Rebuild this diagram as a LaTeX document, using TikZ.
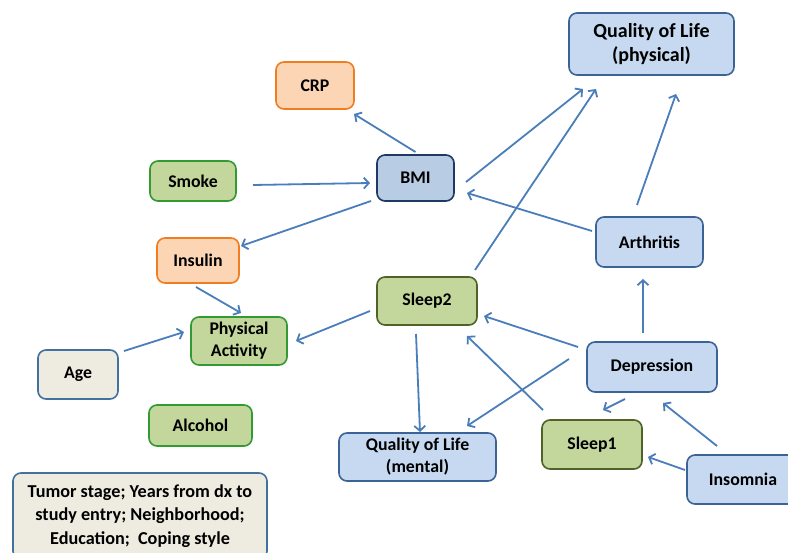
\documentclass[tikz,border=0pt]{standalone}
\usepackage{fontspec}
\setmainfont{Carlito}
\usetikzlibrary{arrows.meta}
\definecolor{orfill}{HTML}{FCD5B5}
\definecolor{ordraw}{HTML}{F07D1F}
\definecolor{grfill}{HTML}{C3D69B}
\definecolor{grdraw}{HTML}{339933}
\definecolor{oldraw}{HTML}{4F6228}
\definecolor{blfill}{HTML}{C6D9F1}
\definecolor{bldraw}{HTML}{3C6396}
\definecolor{bmifill}{HTML}{B8CCE4}
\definecolor{bmidraw}{HTML}{1F3864}
\definecolor{grayfill}{HTML}{EEECE1}
\definecolor{graydraw}{HTML}{41719C}
\definecolor{arrcol}{HTML}{4A7EBB}
\tikzset{
  box/.style={rounded corners=8pt, line width=1.6pt, inner sep=0pt, align=center,
    font=\fontsize{17.8}{22}\selectfont\bfseries},
  orbox/.style={box, fill=orfill, draw=ordraw},
  grbox/.style={box, fill=grfill, draw=grdraw},
  olbox/.style={box, fill=grfill, draw=oldraw},
  blbox/.style={box, fill=blfill, draw=bldraw},
  bmibox/.style={box, fill=bmifill, draw=bmidraw},
  gybox/.style={box, fill=grayfill, draw=graydraw},
  arr/.style={draw=arrcol, line width=1.8pt, -{Straight Barb[length=5pt,width=11pt]}},
}
\begin{document}
\begin{tikzpicture}[x=1pt,y=-1pt]
\clip (0,0) rectangle (788,553);
\fill[white] (0,0) rectangle (788,553);
% nodes
\node[orbox, minimum width=78pt, minimum height=47pt] (crp) at (315,85.5) {CRP};
\node[grbox, minimum width=86pt, minimum height=40pt] (smoke) at (193,181) {Smoke};
\node[orbox, minimum width=82pt, minimum height=45pt] (insulin) at (198,260.5) {Insulin};
\node[bmibox, minimum width=77pt, minimum height=46pt] (bmi) at (415.5,178) {BMI};
\node[blbox, minimum width=165pt, minimum height=62pt,
  font=\fontsize{20}{24}\selectfont\bfseries] (qolp) at (651.5,44) {Quality of Life\\(physical)};
\node[blbox, minimum width=107pt, minimum height=50pt] (arth) at (649.5,242) {Arthritis};
\node[olbox, minimum width=100pt, minimum height=48pt] (sleep2) at (427,301) {Sleep2};
\node[grbox, minimum width=96pt, minimum height=48pt] (pa) at (239,341) {Physical\\Activity};
\node[gybox, minimum width=80pt, minimum height=49pt] (age) at (78,374.5) {Age};
\node[grbox, minimum width=103pt, minimum height=41pt] (alc) at (200.5,425.5) {Alcohol};
\node[gybox, minimum width=254pt, minimum height=86pt,
  font=\fontsize{18.2}{23.5}\selectfont\bfseries] (tumor) at (140,516) {Tumor stage; Years from dx to\\study entry; Neighborhood;\\Education;\ \ Coping style};
\node[blbox, minimum width=157pt, minimum height=48pt] (qolm) at (417.5,457) {Quality of Life\\(mental)};
\node[blbox, minimum width=130pt, minimum height=50pt] (dep) at (652,367) {Depression};
\node[olbox, minimum width=100pt, minimum height=49pt] (sleep1) at (592,444.5) {Sleep1};
\node[blbox, minimum width=112pt, minimum height=49pt] (ins) at (743,479.5) {Insomnia};
% arrows
\draw[arr] ([shift={(0,-26)}]bmi.center) -- ([shift={(39,28.5)}]crp.center);
\draw[arr] ([shift={(60,4)}]smoke.center) -- ([shift={(-45.5,5)}]bmi.center);
\draw[arr] ([shift={(-44.5,23)}]bmi.center) -- ([shift={(43,-14.5)}]insulin.center);
\draw[arr] ([shift={(50.5,4)}]bmi.center) -- ([shift={(-68.5,45)}]qolp.center);
\draw[arr] ([shift={(48,-31)}]sleep2.center) -- ([shift={(-55.5,45)}]qolp.center);
\draw[arr] ([shift={(-12.5,-37)}]arth.center) -- ([shift={(24.5,50)}]qolp.center);
\draw[arr] ([shift={(-57.5,-11)}]arth.center) -- ([shift={(51.5,15)}]bmi.center);
\draw[arr] ([shift={(-9,-34)}]dep.center) -- ([shift={(-6.5,37)}]arth.center);
\draw[arr] ([shift={(-74,-20)}]dep.center) -- ([shift={(57,15)}]sleep2.center);
\draw[arr] ([shift={(-49,-34.5)}]sleep1.center) -- ([shift={(40,35)}]sleep2.center);
\draw[arr] ([shift={(-83,-8)}]dep.center) -- ([shift={(49.5,-31)}]qolm.center);
\draw[arr] ([shift={(-11,33)}]sleep2.center) -- ([shift={(2.5,-25)}]qolm.center);
\draw[arr] ([shift={(-27,32)}]dep.center) -- ([shift={(11,-34.5)}]sleep1.center);
\draw[arr] ([shift={(-26,-33.5)}]ins.center) -- ([shift={(11,36)}]dep.center);
\draw[arr] ([shift={(-58,-9.5)}]ins.center) -- ([shift={(56,12.5)}]sleep1.center);
\draw[arr] ([shift={(-57,10)}]sleep2.center) -- ([shift={(57,0)}]pa.center);
\draw[arr] ([shift={(-2,26.5)}]insulin.center) -- ([shift={(2,-28)}]pa.center);
\draw[arr] ([shift={(46,-23.5)}]age.center) -- ([shift={(-55,-9)}]pa.center);
\end{tikzpicture}
\end{document}
